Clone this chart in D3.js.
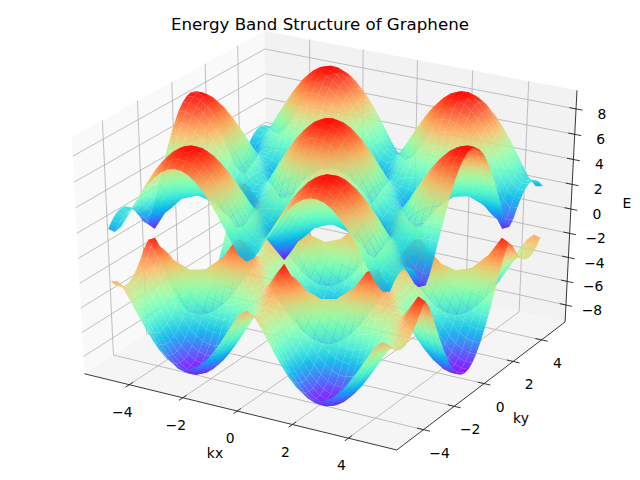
<!DOCTYPE html>
<html>
<head>
<meta charset="utf-8">
<script src="https://cdnjs.cloudflare.com/ajax/libs/d3/7.8.5/d3.min.js"></script>
<style>
  html, body { margin: 0; padding: 0; background: #fff; }
  text { font-family: "DejaVu Sans", sans-serif; fill: #000; }
</style>
</head>
<body>
<svg id="chart" width="640" height="480"></svg>
<script>
// Upper band height E on a quarter of the kx/ky plane, the other three quarters mirror it.
// Estimated, not measured cell by cell: peaks (9), touch points (0) and hook corners
// were read off the picture, the cells between them follow the band shape that fits those.
const kSteps = [0, 0.25, 0.5, 0.75, 1, 1.25, 1.5, 1.75, 2, 2.25, 2.5, 2.75, 3, 3.25, 3.5, 3.75, 4, 4.25, 4.5, 4.75, 5];
const bandRows = [
  [9.00,8.89,8.58,8.08,7.39,6.56,5.63,4.66,3.77,3.14,3.03,3.51,4.34,5.29,6.25,7.12,7.86,8.43,8.81,8.99,8.95],
  [8.89,8.79,8.48,7.98,7.30,6.47,5.54,4.57,3.67,3.04,2.93,3.41,4.24,5.20,6.16,7.02,7.76,8.33,8.71,8.88,8.85],
  [8.58,8.48,8.18,7.68,7.01,6.20,5.27,4.30,3.39,2.73,2.62,3.12,3.97,4.94,5.89,6.74,7.47,8.02,8.40,8.57,8.54],
  [8.08,7.98,7.68,7.20,6.55,5.76,4.85,3.88,2.95,2.24,2.11,2.66,3.55,4.52,5.45,6.29,7.00,7.54,7.90,8.06,8.03],
  [7.39,7.30,7.02,6.56,5.95,5.18,4.31,3.35,2.39,1.60,1.44,2.08,3.02,3.98,4.89,5.70,6.37,6.88,7.22,7.38,7.35],
  [6.55,6.46,6.21,5.79,5.23,4.53,3.71,2.80,1.84,0.90,0.65,1.50,2.47,3.40,4.25,5.00,5.61,6.08,6.40,6.54,6.51],
  [5.59,5.51,5.30,4.94,4.46,3.86,3.16,2.38,1.55,0.73,0.51,1.26,2.10,2.89,3.62,4.26,4.79,5.19,5.46,5.58,5.56],
  [4.53,4.48,4.32,4.06,3.72,3.30,2.82,2.33,1.87,1.54,1.49,1.73,2.16,2.65,3.14,3.58,3.95,4.24,4.44,4.53,4.51],
  [3.42,3.40,3.35,3.26,3.14,3.01,2.87,2.74,2.65,2.59,2.58,2.62,2.71,2.83,2.96,3.10,3.22,3.32,3.39,3.42,3.42],
  [2.30,2.35,2.48,2.67,2.89,3.12,3.32,3.49,3.62,3.69,3.69,3.65,3.54,3.39,3.19,2.97,2.74,2.54,2.39,2.31,2.32],
  [1.20,1.42,1.91,2.48,3.06,3.58,4.03,4.38,4.63,4.77,4.79,4.69,4.48,4.16,3.74,3.24,2.69,2.10,1.57,1.23,1.30],
  [0.16,0.96,1.87,2.73,3.53,4.23,4.82,5.29,5.62,5.80,5.82,5.70,5.42,5.00,4.45,3.78,3.02,2.17,1.28,0.37,0.64],
  [0.77,1.33,2.28,3.24,4.14,4.94,5.62,6.15,6.52,6.73,6.76,6.61,6.30,5.82,5.19,4.43,3.56,2.62,1.65,0.86,1.05],
  [1.57,1.98,2.84,3.81,4.75,5.60,6.33,6.90,7.31,7.53,7.56,7.41,7.06,6.55,5.87,5.06,4.14,3.17,2.25,1.63,1.76],
  [2.22,2.56,3.36,4.32,5.27,6.15,6.91,7.51,7.94,8.17,8.21,8.04,7.68,7.14,6.43,5.59,4.65,3.68,2.80,2.26,2.37],
  [2.68,2.99,3.76,4.70,5.66,6.56,7.33,7.95,8.39,8.63,8.67,8.50,8.13,7.57,6.85,5.99,5.04,4.07,3.22,2.72,2.82],
  [2.94,3.24,3.99,4.93,5.89,6.79,7.58,8.20,8.65,8.89,8.93,8.76,8.38,7.81,7.08,6.22,5.26,4.30,3.46,2.98,3.07],
  [2.99,3.29,4.04,4.97,5.94,6.84,7.63,8.26,8.70,8.95,8.98,8.81,8.43,7.87,7.13,6.26,5.31,4.35,3.51,3.03,3.12],
  [2.84,3.14,3.90,4.84,5.80,6.70,7.48,8.11,8.55,8.79,8.83,8.65,8.28,7.72,6.99,6.13,5.17,4.21,3.37,2.88,2.97],
  [2.48,2.80,3.58,4.53,5.49,6.38,7.15,7.76,8.19,8.43,8.47,8.30,7.93,7.38,6.66,5.81,4.87,3.90,3.04,2.52,2.62],
  [1.93,2.29,3.12,4.08,5.03,5.90,6.64,7.23,7.65,7.88,7.91,7.75,7.40,6.87,6.17,5.35,4.42,3.45,2.55,1.97,2.09]
];
const kTicks = [-4, -2, 0, 2, 4];
const eTicks = [-8, -6, -4, -2, 0, 2, 4, 6, 8];
const kLimits = [-5.7, 5.7];
const eLimits = [-9.45, 9.45];
const upperColorRange = [0, 9];
const lowerColorRange = [-9, 0];
const titleText = "Energy Band Structure of Graphene";

const svg = d3.select("#chart");
const defs = svg.append("defs");

// Camera of the reference: elev 30, azim -60, distance 10, box scaled to a unit cube
const toX = d3.scaleLinear().domain(kLimits).range([-0.5, 0.5]);
const toY = d3.scaleLinear().domain(kLimits).range([-0.5, 0.5]);
const toZ = d3.scaleLinear().domain(eLimits).range([-0.5, 0.5]);
const screenX = d3.scaleLinear().domain([-0.07121, 0.06893]).range([71.7, 577]);
const screenY = d3.scaleLinear().domain([-0.08019, 0.07489]).range([450, 31]);

function project(kx, ky, e) {
  const x = toX(kx), y = toY(ky), z = toZ(e);
  const u = 0.8660 * x + 0.5 * y;
  const v = -0.25 * x + 0.4330 * y + 0.8660 * z;
  const depth = 10 - (0.4330 * x - 0.75 * y + 0.5 * z);
  return { px: screenX(u / depth), py: screenY(v / depth), depth };
}

const pathOf = d3.line().x(d => d.px).y(d => d.py);
const closedPath = d3.line().x(d => d.px).y(d => d.py).curve(d3.curveLinearClosed);

// mpl "rainbow"
function rainbow(t) {
  t = Math.max(0, Math.min(1, t));
  const r = Math.min(1, Math.abs(2 * t - 0.5));
  const g = Math.sin(Math.PI * t);
  const b = Math.cos(Math.PI * t / 2);
  return d3.rgb(r * 255, g * 255, b * 255).formatHex();
}

const [k0, k1] = kLimits;
const [e0, e1] = eLimits;

// Panes
const panes = [
  { fill: "#f9f9f9", pts: [[k0, k0, e0], [k0, k1, e0], [k0, k1, e1], [k0, k0, e1]] },
  { fill: "#f2f2f2", pts: [[k0, k1, e0], [k1, k1, e0], [k1, k1, e1], [k0, k1, e1]] },
  { fill: "#f5f5f5", pts: [[k0, k0, e0], [k1, k0, e0], [k1, k1, e0], [k0, k1, e0]] }
];
svg.append("g").selectAll("path").data(panes).join("path")
  .attr("d", d => closedPath(d.pts.map(p => project(...p))))
  .attr("fill", d => d.fill);

// Grid lines
const gridLines = [];
kTicks.forEach(t => {
  gridLines.push([[t, k0, e0], [t, k1, e0], [t, k1, e1]]);
  gridLines.push([[k1, t, e0], [k0, t, e0], [k0, t, e1]]);
});
eTicks.forEach(t => {
  gridLines.push([[k0, k0, t], [k0, k1, t], [k1, k1, t]]);
});
svg.append("g").selectAll("path").data(gridLines).join("path")
  .attr("d", d => pathOf(d.map(p => project(...p))))
  .attr("fill", "none")
  .attr("stroke", "#b0b0b0")
  .attr("stroke-width", 0.8);

// Axis lines and ticks
const axisLines = [
  [[k0, k0, e0], [k1, k0, e0]],
  [[k1, k0, e0], [k1, k1, e0]],
  [[k1, k1, e0], [k1, k1, e1]]
];
const tickStepK = (k1 - k0) * 0.02;
kTicks.forEach(t => {
  axisLines.push([[t, k0 - tickStepK, e0], [t, k0 + tickStepK, e0]]);
  axisLines.push([[k1 + tickStepK, t, e0], [k1 - tickStepK, t, e0]]);
});
eTicks.forEach(t => {
  axisLines.push([[k1 - tickStepK, k1, t], [k1 + tickStepK, k1, t]]);
});
svg.append("g").selectAll("path").data(axisLines).join("path")
  .attr("d", d => pathOf(d.map(p => project(...p))))
  .attr("fill", "none")
  .attr("stroke", "#222")
  .attr("stroke-width", 0.9);

// Surfaces: the lower band first, the upper band over it
const kFull = kSteps.slice(1).reverse().map(k => -k).concat(kSteps);
const mirror = i => Math.abs(i - (kSteps.length - 1));
let gradCount = 0;

// Colour runs smoothly across a cell: fit the corner colours to a straight gradient on screen
function cellFill(pts, values) {
  const cx = d3.mean(pts, p => p.px), cy = d3.mean(pts, p => p.py), tc = d3.mean(values);
  let sxx = 0, sxy = 0, syy = 0, sxt = 0, syt = 0;
  pts.forEach((p, n) => {
    const dx = p.px - cx, dy = p.py - cy, dt = values[n] - tc;
    sxx += dx * dx; sxy += dx * dy; syy += dy * dy; sxt += dx * dt; syt += dy * dt;
  });
  const det = sxx * syy - sxy * sxy;
  if (det < 1) return rainbow(tc);
  const a = (syy * sxt - sxy * syt) / det;
  const b = (sxx * syt - sxy * sxt) / det;
  const norm = a * a + b * b;
  const spread = d3.max(values, v => Math.abs(v - tc));
  if (norm < 1e-9 || spread < 1e-3) return rainbow(tc);
  const id = "g" + (gradCount++);
  const grad = defs.append("linearGradient").attr("id", id)
    .attr("gradientUnits", "userSpaceOnUse")
    .attr("x1", cx - a / norm * spread).attr("y1", cy - b / norm * spread)
    .attr("x2", cx + a / norm * spread).attr("y2", cy + b / norm * spread);
  grad.append("stop").attr("offset", 0).attr("stop-color", rainbow(tc - spread));
  grad.append("stop").attr("offset", 0.5).attr("stop-color", rainbow(tc));
  grad.append("stop").attr("offset", 1).attr("stop-color", rainbow(tc + spread));
  return "url(#" + id + ")";
}

function bandCells(sign, colorRange) {
  const color = d3.scaleLinear().domain(colorRange).range([0, 1]);
  const cells = [];
  const heightAt = (i, j) => sign * bandRows[mirror(j)][mirror(i)];
  for (let j = 0; j < kFull.length - 1; j++) {
    for (let i = 0; i < kFull.length - 1; i++) {
      const corners = [[i, j], [i + 1, j], [i + 1, j + 1], [i, j + 1]];
      const heights = corners.map(c => heightAt(c[0], c[1]));
      const pts = corners.map((c, n) => project(kFull[c[0]], kFull[c[1]], heights[n]));
      cells.push({ pts, fill: cellFill(pts, heights.map(color)), depth: d3.mean(pts, p => p.depth) });
    }
  }
  return cells.sort((a, b) => d3.descending(a.depth, b.depth));
}

[[-1, lowerColorRange], [1, upperColorRange]].forEach(([sign, range]) => {
  svg.append("g").selectAll("path").data(bandCells(sign, range)).join("path")
    .attr("d", d => closedPath(d.pts))
    .attr("fill", d => d.fill)
    .attr("fill-opacity", 0.9);
});

// Tick labels
const labelFmt = t => String(t).replace("-", "\u2212");
const tickLabels = [];
kTicks.forEach(t => {
  const a = project(t, k0, e0);
  tickLabels.push({ x: a.px - 7, y: a.py + 27, t });
  const b = project(k1, t, e0);
  tickLabels.push({ x: b.px + 16, y: b.py + 23, t });
});
eTicks.forEach(t => {
  const c = project(k1, k1, t);
  tickLabels.push({ x: c.px + 26, y: c.py + 5, t });
});
svg.append("g").selectAll("text").data(tickLabels).join("text")
  .attr("x", d => d.x).attr("y", d => d.y)
  .attr("dy", "0.36em")
  .attr("text-anchor", "middle")
  .attr("font-size", 13.9)
  .text(d => labelFmt(d.t));

// Axis labels and title
const axisLabels = [
  { x: 215, y: 453, t: "kx" },
  { x: 521, y: 418, t: "ky" },
  { x: 627, y: 203, t: "E" }
];
svg.append("g").selectAll("text").data(axisLabels).join("text")
  .attr("x", d => d.x).attr("y", d => d.y)
  .attr("dy", "0.36em")
  .attr("text-anchor", "middle")
  .attr("font-size", 13.9)
  .text(d => d.t);

svg.append("text")
  .attr("x", 320).attr("y", 30)
  .attr("text-anchor", "middle")
  .attr("font-size", 16.67)
  .text(titleText);
</script>
</body>
</html>
